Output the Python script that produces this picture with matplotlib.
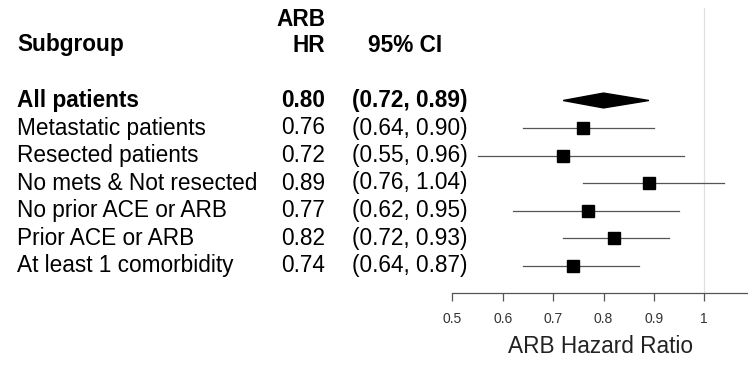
import numpy as np
import matplotlib.pyplot as plt
import matplotlib.transforms as mtransforms
from matplotlib.patches import Polygon

plt.rcParams['font.family'] = ['Liberation Sans', 'DejaVu Sans']

# data
subgroups = ['All patients', 'Metastatic patients', 'Resected patients',
             'No mets & Not resected', 'No prior ACE or ARB',
             'Prior ACE or ARB', 'At least 1 comorbidity']
hr = [0.80, 0.76, 0.72, 0.89, 0.77, 0.82, 0.74]
lo = [0.72, 0.64, 0.55, 0.76, 0.62, 0.72, 0.64]
hi = [0.89, 0.90, 0.96, 1.04, 0.95, 0.93, 0.87]
xticks = [0.5, 0.6, 0.7, 0.8, 0.9, 1.0]
xtick_labels = ['0.5', '0.6', '0.7', '0.8', '0.9', '1']

W, H = 748, 368
fig = plt.figure(figsize=(W / 100, H / 100), dpi=100)
# forest plot axes: left at x=0.5 position, bottom at the axis line
ax = fig.add_axes([452.3 / W, (H - 293) / H, (W - 452.3) / W, (293 - 8) / H])
ax.set_xlim(0.5, 0.5 + (W - 452.3) / 504)
row_px = 27.5
ax.set_ylim((293 - 100.5) / row_px, (8 - 100.5) / row_px)

rows = np.arange(len(subgroups))

# reference line at 1
ax.axvline(1.0, color='#e0e0e0', lw=0.9, zorder=0)

# overall diamond
d = 0.27
ax.add_patch(Polygon([[lo[0], rows[0]], [hr[0], rows[0] - d],
                      [hi[0], rows[0]], [hr[0], rows[0] + d]],
                     closed=True, color='black', zorder=3))

# subgroups
for i in rows[1:]:
    ax.plot([lo[i], hi[i]], [i, i], color='#555555', lw=0.9, zorder=2)
ax.plot(hr[1:], rows[1:], 's', color='black', ms=8.2, zorder=3)

for s in ['top', 'right', 'left']:
    ax.spines[s].set_visible(False)
ax.spines['bottom'].set_color('#555555')
ax.spines['bottom'].set_linewidth(0.9)
ax.set_yticks([])
ax.set_xticks(xticks)
ax.set_xticklabels(xtick_labels, fontsize=10, color='#333333')
ax.tick_params(axis='x', direction='out', length=6, width=0.9,
               color='#555555', pad=8)
ax.set_xlabel('ARB Hazard Ratio', fontsize=16.3, color='#222222', labelpad=6)

# text table
trans = mtransforms.blended_transform_factory(fig.transFigure, ax.transData)
fs = 16.3
for i in rows:
    weight = 'bold' if i == 0 else 'normal'
    ax.text(17 / W, i, subgroups[i], transform=trans, fontsize=fs,
            fontweight=weight, ha='left', va='center', clip_on=False)
    ax.text(325 / W, i, '%.2f' % hr[i], transform=trans, fontsize=fs,
            fontweight=weight, ha='right', va='center', clip_on=False)
    ax.text(352 / W, i, '(%.2f, %.2f)' % (lo[i], hi[i]), transform=trans,
            fontsize=fs, fontweight=weight, ha='left', va='center',
            clip_on=False)

hdr_row = (45 - 100.5) / row_px
arb_row = (20 - 100.5) / row_px
ax.text(17 / W, hdr_row, 'Subgroup', transform=trans, fontsize=fs,
        fontweight='bold', ha='left', va='center', clip_on=False)
ax.text(325 / W, hdr_row, 'HR', transform=trans, fontsize=fs,
        fontweight='bold', ha='right', va='center', clip_on=False)
ax.text(325 / W, arb_row, 'ARB', transform=trans, fontsize=fs,
        fontweight='bold', ha='right', va='center', clip_on=False)
ax.text(405 / W, hdr_row, '95% CI', transform=trans, fontsize=fs,
        fontweight='bold', ha='center', va='center', clip_on=False)

fig.savefig('out.png', dpi=100)
